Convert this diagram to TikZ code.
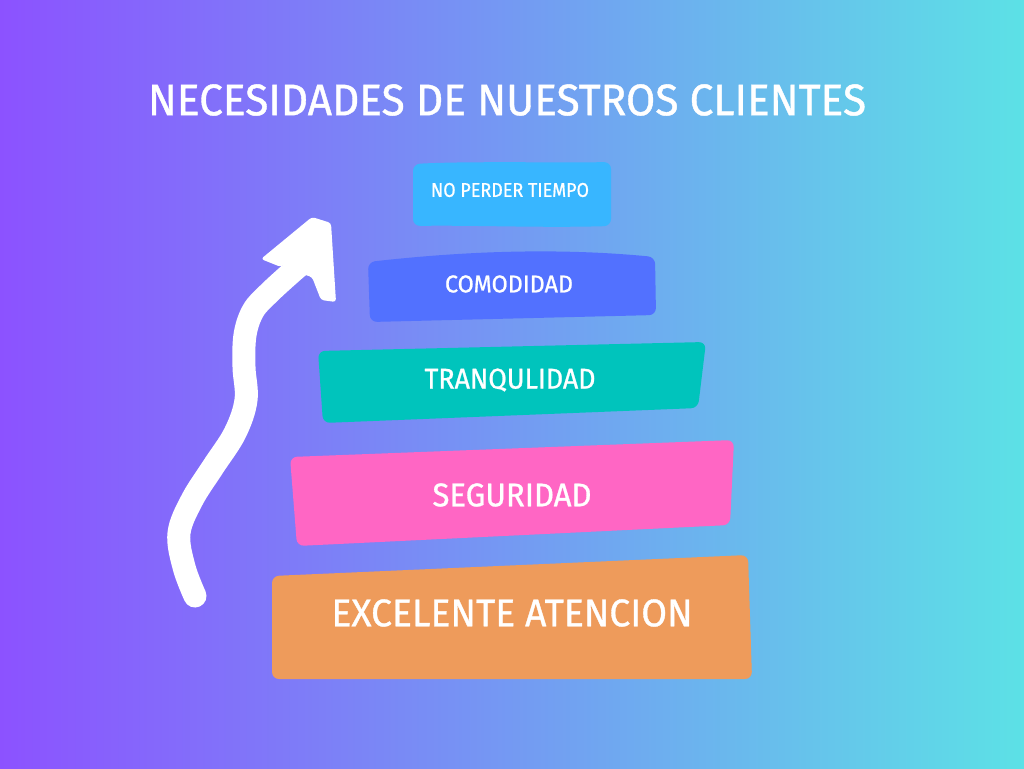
\documentclass[tikz,border=0pt]{standalone}
\usepackage{fontspec}
\setmainfont{Fira Sans}
\newfontfamily\medfont{Fira Sans}[FakeBold=0.9]
\usepackage{graphicx}
\definecolor{bgL}{HTML}{8C52FF}
\definecolor{bgR}{HTML}{5CE1E6}
\definecolor{cTiempo}{HTML}{38B6FF}
\definecolor{cComod}{HTML}{5271FF}
\definecolor{cTranq}{HTML}{00C4BC}
\definecolor{cSeg}{HTML}{FF66C4}
\definecolor{cExc}{HTML}{EE9B5B}
\newcommand\fitbox[3]{\resizebox{#1pt}{#2pt}{\medfont #3}}
\tikzset{
  lbl/.style={text=white, inner sep=0pt, anchor=center},
  blk/.style={rounded corners=7pt},
}
\begin{document}
\begin{tikzpicture}[x=1pt,y=-1pt]
\useasboundingbox (0,0) rectangle (1024,768);
\shade[left color=bgL, right color=bgR] (0,0) rectangle (1024,768);

% title
\node[lbl] (title) at (507,100) {\fitbox{718}{31}{NECESIDADES DE NUESTROS CLIENTES}};

% blocks
\fill[cTiempo, blk] (413,164) .. controls (470,161) and (560,163) .. (611,162) -- (611,226) .. controls (540,228) and (470,225) .. (413,226) -- cycle;
\fill[cComod, blk] (368,262) .. controls (440,254) and (540,246) .. (655,257) -- (656,315) -- (370,322) -- cycle;
\fill[cTranq, blk] (318,351) -- (706,342) -- (698,408) -- (323,423) -- cycle;
\fill[cSeg, blk] (290,457) -- (734,440) -- (730,525) -- (297,546) -- cycle;
\fill[cExc, blk] (272,576) -- (748,555) -- (752,679) -- (272,679) -- cycle;

\node[lbl] (tiempo) at (510,190) {\fitbox{158}{14}{NO PERDER TIEMPO}};
\node[lbl] (comod) at (509,284) {\fitbox{128}{17}{COMODIDAD}};
\node[lbl] (tranq) at (510,380) {\fitbox{171}{20}{TRANQULIDAD}};
\node[lbl] (seg) at (512,495) {\fitbox{159}{23}{SEGURIDAD}};
\node[lbl] (exc) at (512,613) {\fitbox{361}{27}{EXCELENTE ATENCION}};

% arrow
\draw[white, line width=23pt, line cap=round] plot[smooth, tension=0.6] coordinates {(195,596) (184,567) (179,533) (192,500) (213,467) (235,433) (246,400) (244,367) (245,335) (253,311) (268,294) (292,272) (304,262)};
\fill[white, rounded corners=3pt] (312,217) -- (331,223) -- (336,302) -- (321,300) -- (312,277) -- (296,272) -- (300,252) -- (281,267) -- (261,259) -- cycle;
\end{tikzpicture}
\end{document}
